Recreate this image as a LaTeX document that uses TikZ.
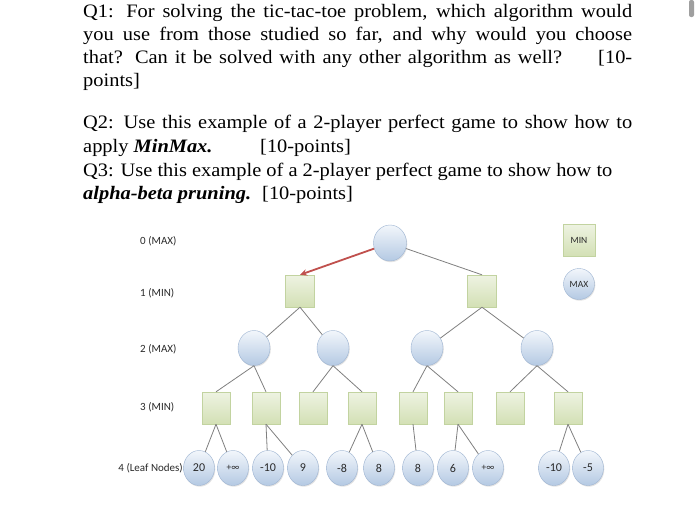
\documentclass[tikz,border=0pt]{standalone}
\usepackage{fontspec}
\setmainfont[FakeStretch=1.075]{Liberation Serif}
\newfontfamily\labfont{Carlito}
\usetikzlibrary{shapes.geometric,arrows.meta,shadows}
\definecolor{edgegray}{HTML}{808080}
\definecolor{arrowred}{HTML}{C0504D}
\definecolor{sqtop}{HTML}{EEF3E2}
\definecolor{sqbot}{HTML}{D3E0B5}
\definecolor{sqdraw}{HTML}{C2D3A0}
\definecolor{citop}{HTML}{F2F6FB}
\definecolor{cibot}{HTML}{B4C9E3}
\definecolor{cidraw}{HTML}{9DB4D2}
\definecolor{labtext}{HTML}{2A2A2A}
\tikzset{
  qtext/.style={anchor=base west, inner sep=0pt, font=\fontsize{19}{23}\selectfont},
  levlab/.style={inner sep=0pt, text=labtext, font=\labfont\fontsize{11}{13}\selectfont},
  minbox/.style={rectangle, draw=sqdraw, top color=sqtop, bottom color=sqbot, minimum width=29pt, minimum height=32pt, inner sep=0pt,
     drop shadow={opacity=0.18, shadow xshift=0.8pt, shadow yshift=-1pt}},
  maxnode/.style={ellipse, draw=cidraw, top color=citop, bottom color=cibot, minimum width=32pt, minimum height=35pt, inner sep=0pt,
     text=labtext, font=\labfont\fontsize{12}{14}\selectfont,
     drop shadow={opacity=0.22, shadow xshift=0.8pt, shadow yshift=-1.2pt}},
  leaf/.style={maxnode, minimum width=31pt, minimum height=35pt},
  edge/.style={draw=edgegray, line width=0.8pt},
  redarrow/.style={draw=arrowred, line width=1.8pt, -{Stealth[length=7pt,width=6.5pt]}}
}
\begin{document}
\begin{tikzpicture}[x=1pt,y=-1pt]
\useasboundingbox (0,0) rectangle (700,504);
\fill[white] (0,0) rectangle (700,504);
% scrollbar
\fill[gray!75, rounded corners=2pt] (689,0) rectangle (694,17);

% questions
\node[qtext] (q1a) at (83,17) {\makebox[549pt][s]{Q1: For solving the tic-tac-toe problem, which algorithm would}};
\node[qtext] (q1b) at (83,40) {\makebox[549pt][s]{you use from those studied so far, and why would you choose}};
\node[qtext] (q1c) at (83,63) {\makebox[549pt][s]{that? Can it be solved with any other algorithm as well?\hspace{36pt}[10-}};
\node[qtext] (q1d) at (83,86) {points]};
\node[qtext] (q2a) at (83,128) {\makebox[549pt][s]{Q2: Use this example of a 2-player perfect game to show how to}};
\node[qtext] (q2b) at (83,152) {apply \textbf{\textit{MinMax.}}};
\node[qtext] (q2c) at (260,152) {[10-points]};
\node[qtext] (q3a) at (83,176) {Q3: Use this example of a 2-player perfect game to show how to};
\node[qtext] (q3b) at (83,199) {\textbf{\textit{alpha-beta pruning.}}};
\node[qtext] (q3c) at (262,199) {[10-points]};

% level labels
\node[levlab, anchor=west] (l0) at (140,241) {0 (MAX)};
\node[levlab, anchor=west] (l1) at (140,293) {1 (MIN)};
\node[levlab, anchor=west] (l2) at (140,349) {2 (MAX)};
\node[levlab, anchor=west] (l3) at (140,407) {3 (MIN)};
\node[levlab, anchor=east] (l4) at (183,468) {4 (Leaf Nodes)};

% legend
\node[minbox, minimum width=32pt, minimum height=32pt, text=labtext, font=\labfont\fontsize{9.5}{11}\selectfont] (legmin) at (579,240) {MIN};
\node[maxnode, minimum width=31pt, minimum height=31pt, font=\labfont\fontsize{9.5}{11}\selectfont] (legmax) at (579,284) {MAX};

% tree
\node[maxnode, minimum width=33pt, minimum height=36pt] (r) at (390,243) {};
\node[minbox] (a1) at (300,291) {};
\node[minbox] (a2) at (482,291) {};
\node[maxnode] (b1) at (254,348) {};
\node[maxnode] (b2) at (333,348) {};
\node[maxnode] (b3) at (427,348) {};
\node[maxnode] (b4) at (537,348) {};
\node[minbox, minimum width=28pt] (c1) at (216,408) {};
\node[minbox, minimum width=28pt] (c2) at (266,408) {};
\node[minbox, minimum width=28pt] (c3) at (313,408) {};
\node[minbox, minimum width=28pt] (c4) at (362,408) {};
\node[minbox, minimum width=28pt] (c5) at (413,408) {};
\node[minbox, minimum width=28pt] (c6) at (458,408) {};
\node[minbox, minimum width=28pt] (c7) at (510,408) {};
\node[minbox, minimum width=28pt] (c8) at (568,408) {};
\node[leaf] (d1) at (199,468) {20};
\node[leaf] (d2) at (233,468) {\fontsize{9.5}{11}\selectfont +∞};
\node[leaf] (d3) at (268,468) {-10};
\node[leaf] (d4) at (303,468) {9};
\node[leaf] (d5) at (342,468) {-8};
\node[leaf] (d6) at (379,468) {8};
\node[leaf] (d7) at (418,468) {8};
\node[leaf] (d8) at (453,468) {6};
\node[leaf] (d9) at (488,468) {\fontsize{9.5}{11}\selectfont +∞};
\node[leaf] (d10) at (554,468) {-10};
\node[leaf] (d11) at (588,468) {-5};

\draw[redarrow] (r) -- (a1.north);
\draw[edge] (r) -- (a2.north);
\draw[edge] (a1.south) -- (b1);
\draw[edge] (a1.south) -- (b2);
\draw[edge] (a2.south) -- (b3);
\draw[edge] (a2.south) -- (b4);
\draw[edge] (b1.south) -- (c1.north);
\draw[edge] (b1.south) -- (c2.north);
\draw[edge] (b2.south) -- (c3.north);
\draw[edge] (b2.south) -- (c4.north);
\draw[edge] (b3.south) -- (c5.north);
\draw[edge] (b3.south) -- (c6.north);
\draw[edge] (b4.south) -- (c7.north);
\draw[edge] (b4.south) -- (c8.north);
\draw[edge] (c1.south) -- (d1);
\draw[edge] (c1.south) -- (d2);
\draw[edge] (c2.south) -- (d3);
\draw[edge] (c2.south) -- (d4);
\draw[edge] (c4.south) -- (d5);
\draw[edge] (c4.south) -- (d6);
\draw[edge] (c5.south) -- (d7);
\draw[edge] (c6.south) -- (d8);
\draw[edge] (c6.south) -- (d9);
\draw[edge] (c8.south) -- (d10);
\draw[edge] (c8.south) -- (d11);
\end{tikzpicture}
\end{document}
